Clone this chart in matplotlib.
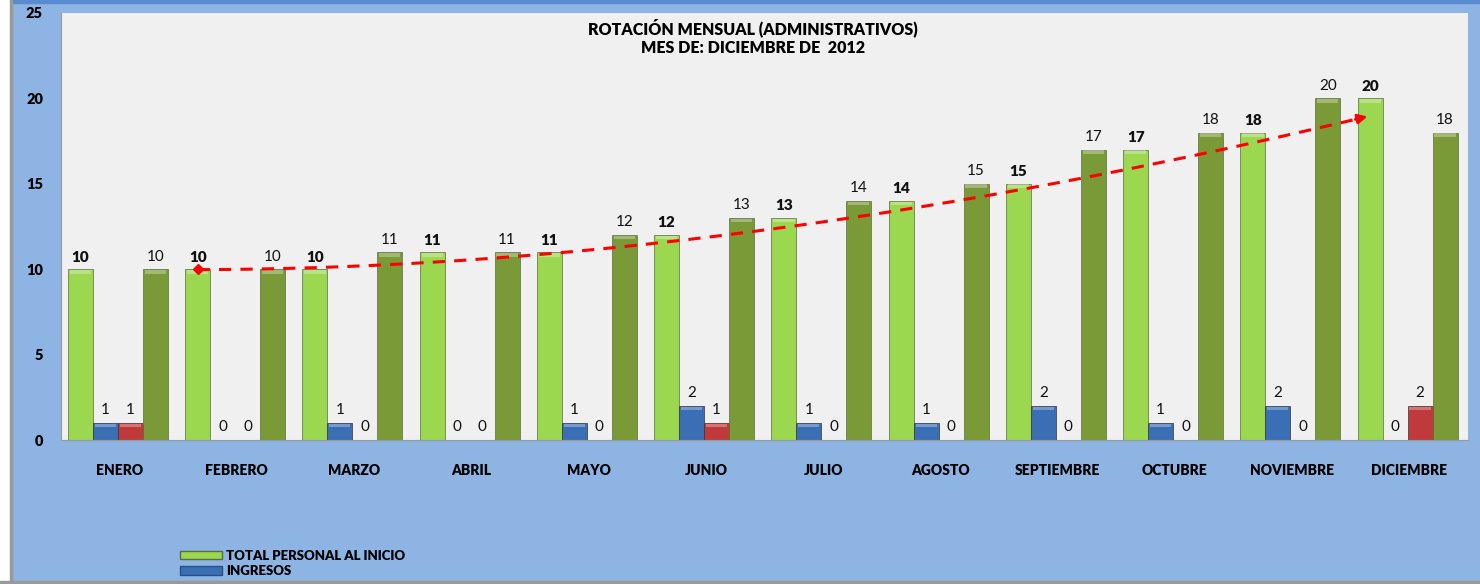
import matplotlib.pyplot as plt
import matplotlib.patches as mpatches
import numpy as np

plt.rcParams['font.family'] = ['Lato', 'DejaVu Sans']

meses = ['ENERO', 'FEBRERO', 'MARZO', 'ABRIL', 'MAYO', 'JUNIO', 'JULIO',
         'AGOSTO', 'SEPTIEMBRE', 'OCTUBRE', 'NOVIEMBRE', 'DICIEMBRE']
total_inicio = [10, 10, 10, 11, 11, 12, 13, 14, 15, 17, 18, 20]
ingresos = [1, 0, 1, 0, 1, 2, 1, 1, 2, 1, 2, 0]
egresos = [1, 0, 0, 0, 0, 1, 0, 0, 0, 0, 0, 2]
total_final = [10, 10, 11, 11, 12, 13, 14, 15, 17, 18, 20, 18]

# tendencia dibujada sobre las barras verdes, de febrero a diciembre
tendencia = [10.0, 10.0, 10.45, 11.0, 11.55, 12.45, 13.45, 14.55, 15.95, 17.55, 18.9]

fondo = '#8EB4E3'
c_ini = '#9BD84F'
c_ing = '#3A6FB5'
c_egr = '#C0393B'
c_fin = '#7A9A38'
negrita = 'heavy'

fig = plt.figure(figsize=(14.8, 5.84), dpi=100, facecolor=fondo)
ax = fig.add_axes([61/1480, 1-440/584, (1468-61)/1480, (440-13)/584])
ax.set_facecolor('#F0F0F0')

x = np.arange(len(meses))
w = 0.213
off = [-1.5*w, -0.5*w, 0.5*w, 1.5*w]
series = [(total_inicio, c_ini, negrita), (ingresos, c_ing, 'normal'),
          (egresos, c_egr, 'normal'), (total_final, c_fin, 'normal')]
for (vals, col, fw), o in zip(series, off):
    ax.bar(x + o - 0.015, vals, w, color=col,
           edgecolor='#5a6b40' if col in (c_ini, c_fin) else '#333333',
           linewidth=0.5, zorder=2)
    # brillo superior
    ax.bar(x + o - 0.015, [0.22 if v > 0 else 0 for v in vals], w*0.85,
           bottom=[v - 0.26 for v in vals], color='white', alpha=0.3, linewidth=0, zorder=3)
    for xi, v in zip(x + o - 0.015, vals):
        ax.annotate(str(v), (xi, v), xytext=(0, 4), textcoords='offset points',
                    ha='center', va='bottom', fontsize=11, fontweight=fw, color='#111111')

# linea de tendencia
tx = x[1:] + off[0] - 0.015
coef = np.polyfit(tx, tendencia, 3)
xs = np.linspace(tx[0], tx[-1] - 0.15, 200)
ax.plot(xs, np.polyval(coef, xs), color='#FF0000', lw=2.2, ls=(0, (4, 3)), zorder=5)
ax.annotate('', xy=(tx[-1], np.polyval(coef, tx[-1])), xytext=(xs[-1], np.polyval(coef, xs[-1])),
            arrowprops=dict(arrowstyle='-|>', color='#FF0000', lw=2, mutation_scale=14), zorder=6)
ax.plot([tx[0]], [tendencia[0]], marker='D', ms=5, color='#FF0000', zorder=6)

ax.set_xlim(-0.5, 11.5)
ax.set_ylim(0, 25)
ax.set_yticks([0, 5, 10, 15, 20, 25])
ax.set_xticks(x)
ax.set_xticklabels(meses, fontsize=10, fontweight=negrita)
for lbl in ax.get_yticklabels():
    lbl.set_fontweight(negrita)
    lbl.set_fontsize(10.5)
ax.tick_params(axis='y', length=0, pad=13)
ax.tick_params(axis='x', length=0, pad=17)
for s in ['top', 'right']:
    ax.spines[s].set_visible(False)
ax.spines['left'].set_color('#999999')
ax.spines['bottom'].set_color('#999999')

fig.text(753/1480, 1-28/584, 'ROTACIÓN MENSUAL (ADMINISTRATIVOS)', ha='center', va='center',
         fontsize=11.5, fontweight=negrita)
fig.text(753/1480, 1-48/584, 'MES DE: DICIEMBRE DE  2012', ha='center', va='center',
         fontsize=11.5, fontweight=negrita)

# marcos de la figura
fig.patches.append(mpatches.Rectangle((0, 1-3/584), 1, 3/584, transform=fig.transFigure,
                                      color='#5A8AD0', zorder=0))
fig.patches.append(mpatches.Rectangle((0, 0), 10/1480, 1, transform=fig.transFigure,
                                      color='white', zorder=0))
fig.patches.append(mpatches.Rectangle((10/1480, 0), 2/1480, 1, transform=fig.transFigure,
                                      color='#999999', zorder=0))
fig.patches.append(mpatches.Rectangle((0, 0), 1, 3/584, transform=fig.transFigure,
                                      color='#999999', zorder=0))

handles = [mpatches.Patch(facecolor=c_ini, edgecolor='#5a6b40'),
           mpatches.Patch(facecolor=c_ing, edgecolor='#2a4f80')]
fig.legend(handles, ['TOTAL PERSONAL AL INICIO', 'INGRESOS'], loc='upper left',
           bbox_to_anchor=(168/1480, 1-538/584), frameon=False, handlelength=3.2,
           handleheight=0.6, labelspacing=0.25, handletextpad=0.3,
           prop={'weight': negrita, 'size': 9.5})

fig.savefig('out.png', dpi=100, facecolor=fondo)
